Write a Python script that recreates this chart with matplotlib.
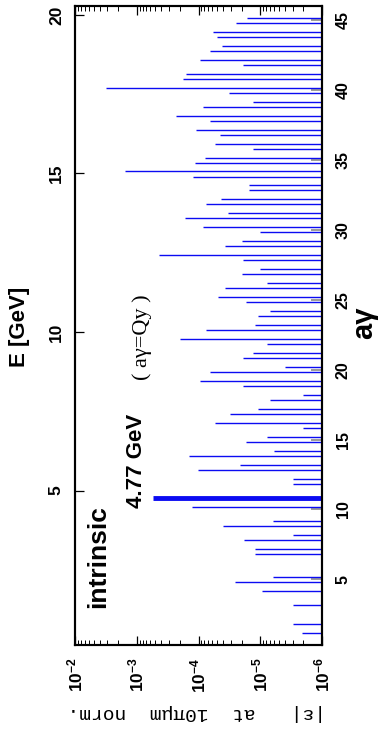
import matplotlib
matplotlib.use('Agg')
import matplotlib.pyplot as plt
from matplotlib.ticker import LogLocator, NullFormatter

plt.rcParams['font.family'] = ['Liberation Sans', 'DejaVu Sans']
plt.rcParams['mathtext.fontset'] = 'custom'
plt.rcParams['mathtext.rm'] = 'Liberation Sans'
plt.rcParams['mathtext.bf'] = 'Liberation Sans:bold'

# ---------------- data ----------------
E_ticks = [5, 10, 15, 20]
ag_ticks = [5, 10, 15, 20, 25, 30, 35, 40, 45]
eps_ticks = [1e-2, 1e-3, 1e-4, 1e-5, 1e-6]
eps_tick_labels = [r'$\mathbf{10^{-2}}$', r'$\mathbf{10^{-3}}$', r'$\mathbf{10^{-4}}$',
                   r'$\mathbf{10^{-5}}$', r'$\mathbf{10^{-6}}$']

# resonance locations (a*gamma) and strengths |eps|
res_agamma = [1.18, 1.82, 3.18, 4.18, 4.82, 5.18, 6.82, 7.18, 7.82, 8.18,
              8.82, 9.18, 10.18, 11.82, 12.18, 12.82, 13.18, 13.82, 14.18, 14.82,
              15.18, 15.82, 16.18, 16.82, 17.18, 17.82, 18.18, 18.82, 19.18, 19.82,
              20.18, 20.82, 21.18, 21.82, 22.18, 22.82, 23.18, 23.82, 24.18, 24.82,
              25.18, 25.82, 26.18, 26.82, 27.18, 27.82, 28.18, 28.82, 29.18, 29.82,
              30.18, 30.82, 31.18, 31.82, 32.18, 32.82, 33.18, 33.82, 34.18, 34.82,
              35.18, 35.82, 36.18, 36.82, 37.18, 37.82, 38.18, 38.82, 39.18, 39.82,
              40.18, 40.82, 41.18, 41.82, 42.18, 42.82, 43.18, 43.82, 44.18, 44.82,
              45.18]
res_eps = [2.1e-6, 3.0e-6, 3.0e-6, 9.3e-6, 2.6e-5, 6.2e-6, 1.2e-5, 1.2e-5, 1.8e-5, 3.0e-6,
           4.0e-5, 6.2e-6, 1.26e-4, 3.0e-6, 3.0e-6, 1.0e-4, 2.1e-5, 1.4e-4, 5.9e-6, 1.7e-5,
           7.9e-6, 2.0e-6, 5.4e-5, 3.1e-5, 1.07e-5, 6.9e-6, 2.0e-6, 1.9e-5, 9.3e-5, 6.5e-5,
           4.0e-6, 1.9e-5, 1.3e-5, 7.9e-6, 2.0e-4, 7.6e-5, 1.2e-5, 1.1e-5, 6.9e-6, 1.7e-5,
           4.8e-5, 3.7e-5, 7.9e-6, 2.0e-5, 1.0e-5, 1.9e-5, 4.4e-4, 3.7e-5, 2.0e-5, 1.0e-5,
           8.5e-5, 1.66e-4, 3.3e-5, 7.6e-5, 4.3e-5, 1.5e-5, 1.5e-5, 1.23e-4, 1.55e-3, 1.15e-4,
           7.8e-5, 1.3e-5, 5.4e-5, 4.5e-5, 1.1e-4, 6.5e-5, 2.3e-4, 8.5e-5, 1.3e-5, 3.2e-5,
           3.16e-3, 1.78e-4, 1.58e-4, 1.9e-5, 9.3e-5, 6.5e-5, 4.2e-5, 5.1e-5, 5.75e-5, 2.45e-5,
           1.62e-5]

intr_E = 4.77        # GeV, a*gamma = Qy
intr_eps = 5.5e-4

GEV_PER_AG = 0.44065
E_lim = (0.13, 20.28)
eps_lim = (1e-2, 1e-6)

blue = '#0b0bf2'

# ---------------- figure ----------------
fig = plt.figure(figsize=(3.78, 7.43), dpi=100)
W, H = 378.0, 743.0
ax = fig.add_axes([75 / W, 1 - 645 / H, (322 - 75) / W, (645 - 6) / H])
ax.set_xscale('log')
ax.set_xlim(*eps_lim)
ax.set_ylim(*E_lim)

ax2 = ax.twinx()
ax2.set_ylim(E_lim[0] / GEV_PER_AG, E_lim[1] / GEV_PER_AG)

ax2.hlines(res_agamma, res_eps, eps_lim[1], color=blue, lw=1.0)
ax.hlines([intr_E], [intr_eps], eps_lim[1], color=blue, lw=3.5)

# E axis (left)
ax.set_yticks(E_ticks)
ax.set_yticklabels([str(v) for v in E_ticks], rotation=90, va='center',
                   fontsize=12.5, fontweight='bold')
ax.tick_params(axis='y', direction='in', length=6.5, width=0.9, pad=8,
               left=True, right=False)

# eps axis (bottom / top)
ax.set_xticks(eps_ticks)
ax.set_xticklabels(eps_tick_labels, rotation=90, fontsize=12.5)
ax.xaxis.set_minor_locator(LogLocator(base=10, subs=range(2, 10), numticks=20))
ax.xaxis.set_minor_formatter(NullFormatter())
ax.tick_params(axis='x', which='major', direction='in', top=True, bottom=True,
               length=6.5, width=0.9, pad=9)
ax.tick_params(axis='x', which='minor', direction='in', top=True, bottom=True,
               length=3.5, width=0.7)

# a*gamma axis (right)
ax2.set_yticks(ag_ticks)
ax2.set_yticklabels([str(v) for v in ag_ticks], rotation=90, va='center',
                    fontsize=11.5, fontweight='bold')
ax2.tick_params(axis='y', direction='in', length=8, width=1.2, color='#8a8a8a',
                pad=10)

for a in (ax, ax2):
    for s in a.spines.values():
        s.set_linewidth(1.5)

# labels
fig.text(20 / W, 1 - 327 / H, 'E [GeV]', rotation=90, ha='center', va='center',
         fontsize=16, fontweight='bold')
fig.text(364 / W, 1 - 323 / H, 'a\u03b3', rotation=90, ha='center', va='center',
         fontsize=21, fontweight='bold')
fig.text(197 / W, 1 - 712 / H, '|\u03b5|   at  10\u03c0\u03bcm  norm.', rotation=180,
         ha='center', va='center', fontsize=14, family=['Liberation Mono', 'DejaVu Sans Mono'])
fig.text(98 / W, 1 - 557 / H, 'intrinsic', rotation=90, ha='center', va='center',
         fontsize=19, fontweight='bold')
fig.text(136 / W, 1 - 461 / H, '4.77 GeV', rotation=90, ha='center', va='center',
         fontsize=16, fontweight='bold')
fig.text(142 / W, 1 - 337 / H, '( a\u03b3=Qy )', rotation=90, ha='center', va='center',
         fontsize=16, family=['Liberation Serif', 'DejaVu Serif'])

fig.savefig('out.png', dpi=100)
